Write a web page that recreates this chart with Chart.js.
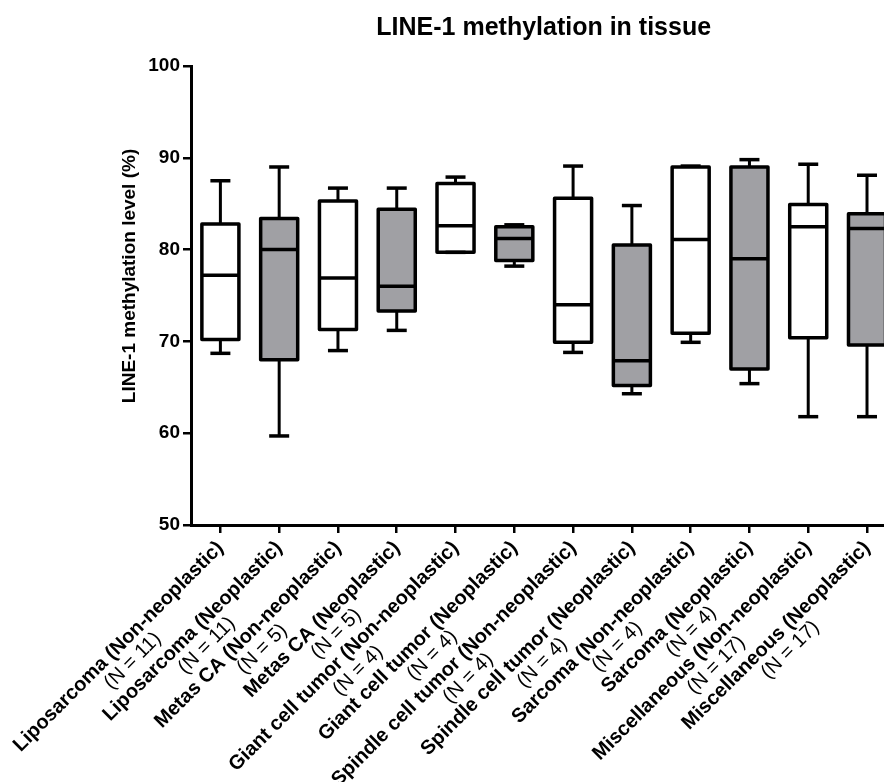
<!DOCTYPE html>
<html>
<head>
<meta charset="utf-8">
<title>LINE-1 methylation in tissue</title>
<script src="https://cdn.jsdelivr.net/npm/chart.js@4.4.0/dist/chart.umd.min.js"></script>
<style>
  html, body { margin: 0; padding: 0; background: #fff; overflow: hidden; }
  #wrap { width: 900px; height: 782px; }
</style>
</head>
<body>
<div id="wrap"><canvas id="tissue-chart" width="900" height="782"></canvas></div>
<script>
const groupNames = [
  'Liposarcoma (Non-neoplastic)', 'Liposarcoma (Neoplastic)',
  'Metas CA (Non-neoplastic)', 'Metas CA (Neoplastic)',
  'Giant cell tumor (Non-neoplastic)', 'Giant cell tumor (Neoplastic)',
  'Spindle cell tumor (Non-neoplastic)', 'Spindle cell tumor (Neoplastic)',
  'Sarcoma (Non-neoplastic)', 'Sarcoma (Neoplastic)',
  'Miscellaneous (Non-neoplastic)', 'Miscellaneous (Neoplastic)'
];
const groupCounts = [11, 11, 5, 5, 4, 4, 4, 4, 4, 4, 17, 17];

// five-number summary per group (%)
const whiskerMin = [68.7, 59.7, 69.0, 71.2, 79.7, 78.2, 68.8, 64.3, 69.9, 65.4, 61.8, 61.8];
const quartile1  = [70.2, 68.0, 71.3, 73.3, 79.7, 78.8, 69.9, 65.2, 70.9, 67.0, 70.4, 69.6];
const medians    = [77.2, 80.0, 76.9, 76.0, 82.6, 81.2, 74.0, 67.9, 81.1, 79.0, 82.5, 82.3];
const quartile3  = [82.8, 83.4, 85.3, 84.4, 87.2, 82.5, 85.6, 80.5, 89.0, 89.0, 84.9, 83.9];
const whiskerMax = [87.5, 89.0, 86.7, 86.7, 87.9, 82.7, 89.1, 84.8, 89.1, 89.8, 89.3, 88.1];

const yTicks = [50, 60, 70, 80, 90, 100];

const FONT = '"Liberation Sans", Arial, sans-serif';
const INK = '#000';
// neoplastic groups are shaded
const boxColors = groupNames.map(n => n.includes('(Neoplastic)') ? '#a0a0a4' : '#ffffff');

function line(ctx, x1, y1, x2, y2) {
  ctx.beginPath();
  ctx.moveTo(x1, y1);
  ctx.lineTo(x2, y2);
  ctx.stroke();
}

// whiskers, caps, medians and box outlines on top of the floating bars
const boxWhiskers = {
  id: 'boxWhiskers',
  afterDatasetsDraw(chart) {
    const { ctx, scales: { y } } = chart;
    const bars = chart.getDatasetMeta(0).data;
    ctx.save();
    ctx.strokeStyle = INK;
    bars.forEach((bar, i) => {
      const cx = bar.x;
      const half = bar.width / 2;
      const capHalf = 10;
      const yMin = y.getPixelForValue(whiskerMin[i]);
      const yQ1 = y.getPixelForValue(quartile1[i]);
      const yMed = y.getPixelForValue(medians[i]);
      const yQ3 = y.getPixelForValue(quartile3[i]);
      const yMax = y.getPixelForValue(whiskerMax[i]);

      ctx.lineCap = 'butt';
      ctx.lineWidth = 3;
      line(ctx, cx, yQ3, cx, yMax);
      line(ctx, cx, yQ1, cx, yMin);
      ctx.lineWidth = 3.5;
      line(ctx, cx - capHalf, yMax, cx + capHalf, yMax);
      line(ctx, cx - capHalf, yMin, cx + capHalf, yMin);
      line(ctx, cx - half, yMed, cx + half, yMed);

      ctx.lineJoin = 'round';
      ctx.strokeRect(cx - half, yQ3, half * 2, yQ1 - yQ3);
    });
    ctx.restore();
  }
};

// chart title, y-axis title and the two-line slanted group labels
const labelsAndTitle = {
  id: 'labelsAndTitle',
  afterDraw(chart) {
    const { ctx, chartArea, scales: { x } } = chart;
    ctx.save();
    ctx.fillStyle = INK;
    ctx.font = 'bold 25px ' + FONT;
    ctx.textAlign = 'center';
    ctx.textBaseline = 'middle';
    ctx.fillText('LINE-1 methylation in tissue', (chartArea.left + chartArea.right) / 2, 28);

    ctx.save();
    ctx.translate(130, 276);
    ctx.rotate(-Math.PI / 2);
    ctx.font = 'bold 19px ' + FONT;
    ctx.fillText('LINE-1 methylation level (%)', 0, 0);
    ctx.restore();

    groupNames.forEach((name, i) => {
      const cx = x.getPixelForValue(i);
      ctx.save();
      ctx.translate(cx, chartArea.bottom + 20);
      ctx.rotate(-Math.PI / 4);
      ctx.font = 'bold 20px ' + FONT;
      ctx.textAlign = 'right';
      const w = ctx.measureText(name).width;
      ctx.fillText(name, 0, 0);
      ctx.font = '20px ' + FONT;
      ctx.textAlign = 'center';
      ctx.fillText('(N = ' + groupCounts[i] + ')', -w / 2, 20);
      ctx.restore();
    });
    ctx.restore();
  }
};

new Chart('tissue-chart', {
  type: 'bar',
  data: {
    labels: groupNames,
    datasets: [{
      label: 'LINE-1 methylation',
      data: quartile1.map((q, i) => [q, quartile3[i]]),
      backgroundColor: boxColors,
      borderWidth: 0,
      barPercentage: 0.63,
      categoryPercentage: 1,
    }],
  },
  options: {
    responsive: false,
    animation: false,
    layout: {
      padding: { left: 0, top: 66, right: 3.6, bottom: 0 },
    },
    scales: {
      x: {
        offset: true,
        ticks: { display: false },
        grid: {
          offset: false,
          drawOnChartArea: false,
          drawTicks: true,
          tickLength: 8,
          color: INK,
          lineWidth: 2.5,
        },
        border: { display: true, color: INK, width: 3 },
        afterFit(scale) { scale.height = 257; },
      },
      y: {
        min: yTicks[0],
        max: yTicks[yTicks.length - 1],
        afterBuildTicks(scale) { scale.ticks = yTicks.map(v => ({ value: v })); },
        ticks: {
          color: INK,
          padding: 3,
          font: { family: FONT, size: 19, weight: 'bold' },
        },
        grid: {
          drawOnChartArea: false,
          drawTicks: true,
          tickLength: 8,
          color: INK,
          lineWidth: 2.5,
        },
        border: { display: true, color: INK, width: 3 },
        afterFit(scale) { scale.width = 191; },
      },
    },
    plugins: {
      legend: { display: false },
      tooltip: { enabled: false },
      title: { display: false },
    },
  },
  plugins: [boxWhiskers, labelsAndTitle],
});
</script>
</body>
</html>
